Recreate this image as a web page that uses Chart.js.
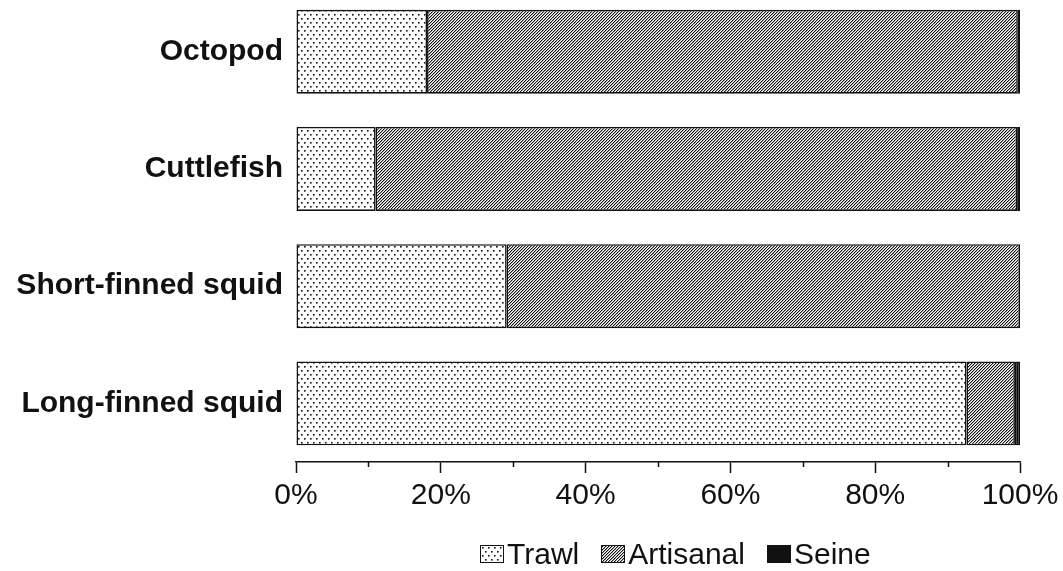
<!DOCTYPE html>
<html>
<head>
<meta charset="utf-8">
<script src="https://cdn.jsdelivr.net/npm/chart.js@4/dist/chart.umd.min.js"></script>
<style>
  html, body { margin: 0; padding: 0; background: #fff; width: 1063px; height: 571px; overflow: hidden; position: relative; }
  #wrap { position: absolute; left: 0; top: -7px; width: 1063px; height: 578px; }
  #legend { position: absolute; left: 480px; top: 537px; height: 34px; font: 30px "Liberation Sans", Arial, Helvetica, sans-serif; line-height: 34px; color: #111; display: flex; align-items: center; white-space: nowrap; }
  .item { display: flex; align-items: center; margin-right: 22px; }
  .sw { width: 24px; height: 18px; border: 1.5px solid #111; margin-right: 3px; box-sizing: border-box; }
</style>
</head>
<body>
<div id="wrap"><canvas id="c" width="1063" height="578"></canvas></div>
<div id="legend"></div>
<script>
// ---- data ----
const categories = ["Octopod", "Cuttlefish", "Short-finned squid", "Long-finned squid"];
const seriesNames = ["Trawl", "Artisanal", "Seine"];
const trawl = [18.1, 11.0, 29.1, 92.6];
const artisanal = [81.6, 88.6, 70.9, 6.7];
const seine = [0.3, 0.4, 0.0, 0.7];
const xTicks = [0, 20, 40, 60, 80, 100];
const minorTicks = [10, 30, 50, 70, 90];

// ---- patterns ----
function makeTile(w, h, draw) {
  const c = document.createElement('canvas');
  c.width = w; c.height = h;
  const g = c.getContext('2d');
  g.fillStyle = '#fff'; g.fillRect(0, 0, w, h);
  draw(g);
  return c;
}
const dotTile = makeTile(6, 8, g => {
  g.fillStyle = '#111';
  g.fillRect(1, 1, 1.6, 1.6);
  g.fillRect(4, 5, 1.6, 1.6);
});
const hatchTile = makeTile(3, 3, g => {
  for (let x = 0; x < 3; x++) for (let y = 0; y < 3; y++) {
    const m = (x + y) % 3;
    if (m === 0) { g.fillStyle = '#111'; g.fillRect(x, y, 1, 1); }
    else if (m === 1) { g.fillStyle = '#aaa'; g.fillRect(x, y, 1, 1); }
  }
});
const ctx0 = document.getElementById('c').getContext('2d');
const dotPat = ctx0.createPattern(dotTile, 'repeat');
const hatchPat = ctx0.createPattern(hatchTile, 'repeat');
const fills = [dotPat, hatchPat, '#111'];
const swatchBg = [
  'url(' + dotTile.toDataURL() + ')',
  'url(' + hatchTile.toDataURL() + ')',
  '#111'
];

const FONT = '"Liberation Sans", Arial, Helvetica, sans-serif';

const minorTickPlugin = {
  id: 'minorTicks',
  afterDraw(chart) {
    const s = chart.scales.x;
    const c = chart.ctx;
    c.save();
    c.strokeStyle = '#111';
    c.lineWidth = 1.5;
    minorTicks.forEach(v => {
      const x = Math.round(s.getPixelForValue(v)) + 0.5;
      c.beginPath();
      c.moveTo(x, chart.chartArea.bottom);
      c.lineTo(x, chart.chartArea.bottom + 5);
      c.stroke();
    });
    c.restore();
  }
};

const datasets = [trawl, artisanal, seine].map((d, i) => ({
  label: seriesNames[i],
  data: d,
  backgroundColor: fills[i],
  borderColor: '#111',
  borderWidth: 1.6,
  borderSkipped: false,
  barPercentage: 0.716,
  categoryPercentage: 1.0
}));

new Chart(document.getElementById('c'), {
  type: 'bar',
  data: { labels: categories, datasets },
  options: {
    indexAxis: 'y',
    responsive: false,
    animation: false,
    layout: { padding: { left: 0, top: 0, right: 43, bottom: 58 } },
    plugins: { legend: { display: false }, tooltip: { enabled: false } },
    scales: {
      x: {
        stacked: true,
        min: 0, max: 100,
        afterBuildTicks: s => { s.ticks = xTicks.map(v => ({ value: v })); },
        afterFit: s => { s.height = 51; },
        border: { display: true, color: '#111', width: 1.5 },
        grid: { drawOnChartArea: false, drawTicks: true, tickLength: 11, tickColor: '#111', tickWidth: 1.5 },
        ticks: {
          padding: 2,
          color: '#111',
          font: { family: FONT, size: 30, lineHeight: 1.4 },
          callback: v => v + '%',
          maxRotation: 0
        }
      },
      y: {
        stacked: true,
        afterFit: s => { s.width = 296; },
        border: { display: false },
        grid: { display: true, drawOnChartArea: false, drawTicks: true, tickLength: 13, tickColor: 'rgba(0,0,0,0)' },
        ticks: {
          padding: 0,
          color: '#111',
          font: { family: FONT, size: 30, weight: 'bold', lineHeight: 0.01 }
        }
      }
    }
  },
  plugins: [minorTickPlugin]
});

// ---- legend ----
const lg = document.getElementById('legend');
seriesNames.forEach((n, i) => {
  const it = document.createElement('div');
  it.className = 'item';
  const sw = document.createElement('div');
  sw.className = 'sw';
  sw.style.background = swatchBg[i];
  const t = document.createElement('span');
  t.textContent = n;
  it.appendChild(sw); it.appendChild(t);
  lg.appendChild(it);
});
</script>
</body>
</html>
